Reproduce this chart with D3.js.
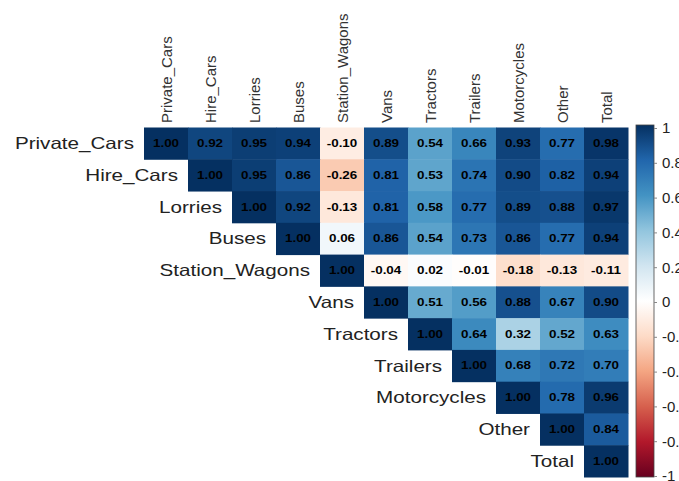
<!DOCTYPE html>
<html>
<head>
<meta charset="utf-8">
<script src="https://cdn.jsdelivr.net/npm/d3@7"></script>
<style>
  html, body { margin: 0; padding: 0; background: #fff; }
  svg { display: block; }
</style>
</head>
<body>
<svg id="chart" width="679" height="481"></svg>
<script>
// Vehicle categories (rows and columns of the correlation matrix)
const categories = ["Private_Cars", "Hire_Cars", "Lorries", "Buses", "Station_Wagons",
  "Vans", "Tractors", "Trailers", "Motorcycles", "Other", "Total"];

// Upper-triangle correlation values, one array per row starting at the diagonal
const rowPrivateCars   = [1.00, 0.92, 0.95, 0.94, -0.10, 0.89, 0.54, 0.66, 0.93, 0.77, 0.98];
const rowHireCars      = [1.00, 0.95, 0.86, -0.26, 0.81, 0.53, 0.74, 0.90, 0.82, 0.94];
const rowLorries       = [1.00, 0.92, -0.13, 0.81, 0.58, 0.77, 0.89, 0.88, 0.97];
const rowBuses         = [1.00, 0.06, 0.86, 0.54, 0.73, 0.86, 0.77, 0.94];
const rowStationWagons = [1.00, -0.04, 0.02, -0.01, -0.18, -0.13, -0.11];
const rowVans          = [1.00, 0.51, 0.56, 0.88, 0.67, 0.90];
const rowTractors      = [1.00, 0.64, 0.32, 0.52, 0.63];
const rowTrailers      = [1.00, 0.68, 0.72, 0.70];
const rowMotorcycles   = [1.00, 0.78, 0.96];
const rowOther         = [1.00, 0.84];
const rowTotal         = [1.00];

const rows = [rowPrivateCars, rowHireCars, rowLorries, rowBuses, rowStationWagons,
  rowVans, rowTractors, rowTrailers, rowMotorcycles, rowOther, rowTotal];

// Colour legend tick labels
const legendTicks = [1, 0.8, 0.6, 0.4, 0.2, 0, -0.2, -0.4, -0.6, -0.8, -1];

// Diverging red-white-blue palette, linearly interpolated
const paletteStops = ["#67001F", "#B2182B", "#D6604D", "#F4A582", "#FDDBC7", "#FFFFFF",
  "#D1E5F0", "#92C5DE", "#4393C3", "#2166AC", "#053061"];

const svg = d3.select("#chart");

// Plain hyphen-minus for negative numbers
const fmtCoef = v => d3.format(".2f")(v).replace("\u2212", "-");
const fmtTick = v => String(v);

const color = d3.scaleLinear()
  .domain(d3.range(paletteStops.length).map(i => -1 + i * 2 / (paletteStops.length - 1)))
  .range(paletteStops)
  .interpolate(d3.interpolateRgb)
  .clamp(true);

const grid = { left: 144, top: 127.5, right: 628, bottom: 477 };

const x = d3.scaleBand().domain(categories).range([grid.left, grid.right]).padding(0);
const y = d3.scaleBand().domain(categories).range([grid.top, grid.bottom]).padding(0);

// Flatten the triangle into cells
const cells = [];
rows.forEach((vals, i) => {
  vals.forEach((v, k) => {
    const j = i + k;
    cells.push({ row: categories[i], col: categories[j], value: v });
  });
});

const g = svg.append("g");

g.selectAll("rect.cell")
  .data(cells)
  .join("rect")
  .attr("class", "cell")
  .attr("x", d => x(d.col))
  .attr("y", d => y(d.row))
  .attr("width", x.bandwidth() + 0.5)
  .attr("height", y.bandwidth() + 0.5)
  .attr("fill", d => color(d.value));

// Coefficient labels
g.selectAll("text.coef")
  .data(cells)
  .join("text")
  .attr("class", "coef")
  .attr("transform", d => `translate(${x(d.col) + x.bandwidth() / 2},${y(d.row) + y.bandwidth() / 2}) scale(1.22,1)`)
  .attr("text-anchor", "middle")
  .attr("dominant-baseline", "central")
  .attr("font-family", "Liberation Sans, Arial, sans-serif")
  .attr("font-weight", "bold")
  .attr("font-size", 11)
  .attr("fill", "#000")
  .text(d => fmtCoef(d.value));

// Row labels, right-aligned beside the diagonal cell
g.selectAll("text.rowlab")
  .data(categories)
  .join("text")
  .attr("class", "rowlab")
  .attr("transform", d => `translate(${x(d) - 10},${y(d) + y.bandwidth() / 2}) scale(1.25,1)`)
  .attr("text-anchor", "end")
  .attr("dominant-baseline", "central")
  .attr("font-family", "Liberation Sans, Arial, sans-serif")
  .attr("font-size", 16.5)
  .attr("fill", "#222")
  .text(d => d);

// Column labels, rotated above the grid
g.selectAll("text.collab")
  .data(categories)
  .join("text")
  .attr("class", "collab")
  .attr("transform", d => `translate(${x(d) + x.bandwidth() / 2},123) rotate(-90)`)
  .attr("text-anchor", "start")
  .attr("dominant-baseline", "central")
  .attr("font-family", "Liberation Sans, Arial, sans-serif")
  .attr("font-size", 15)
  .attr("fill", "#333")
  .text(d => d);

// Colour legend bar
const legend = { x: 636, width: 18, top: 125, bottom: 477 };
const ly = d3.scaleLinear().domain([-1, 1]).range([476, 128]);

const defs = svg.append("defs");
const grad = defs.append("linearGradient")
  .attr("id", "legendGrad")
  .attr("x1", 0).attr("y1", 1).attr("x2", 0).attr("y2", 0);
grad.selectAll("stop")
  .data(paletteStops)
  .join("stop")
  .attr("offset", (d, i) => i / (paletteStops.length - 1))
  .attr("stop-color", d => d);

svg.append("rect")
  .attr("x", legend.x)
  .attr("y", legend.top)
  .attr("width", legend.width)
  .attr("height", legend.bottom - legend.top)
  .attr("fill", "url(#legendGrad)")
  .attr("stroke", "#444")
  .attr("stroke-width", 0.8);

const laxis = svg.append("g")
  .attr("transform", `translate(${legend.x + legend.width},0)`)
  .call(d3.axisRight(ly).tickValues(legendTicks).tickSize(3).tickPadding(5)
    .tickFormat(fmtTick));
laxis.select(".domain").remove();
laxis.selectAll(".tick line").attr("stroke", "#888");
laxis.selectAll(".tick text")
  .attr("font-family", "Liberation Sans, Arial, sans-serif")
  .attr("font-size", 15)
  .attr("fill", "#222");
</script>
</body>
</html>
